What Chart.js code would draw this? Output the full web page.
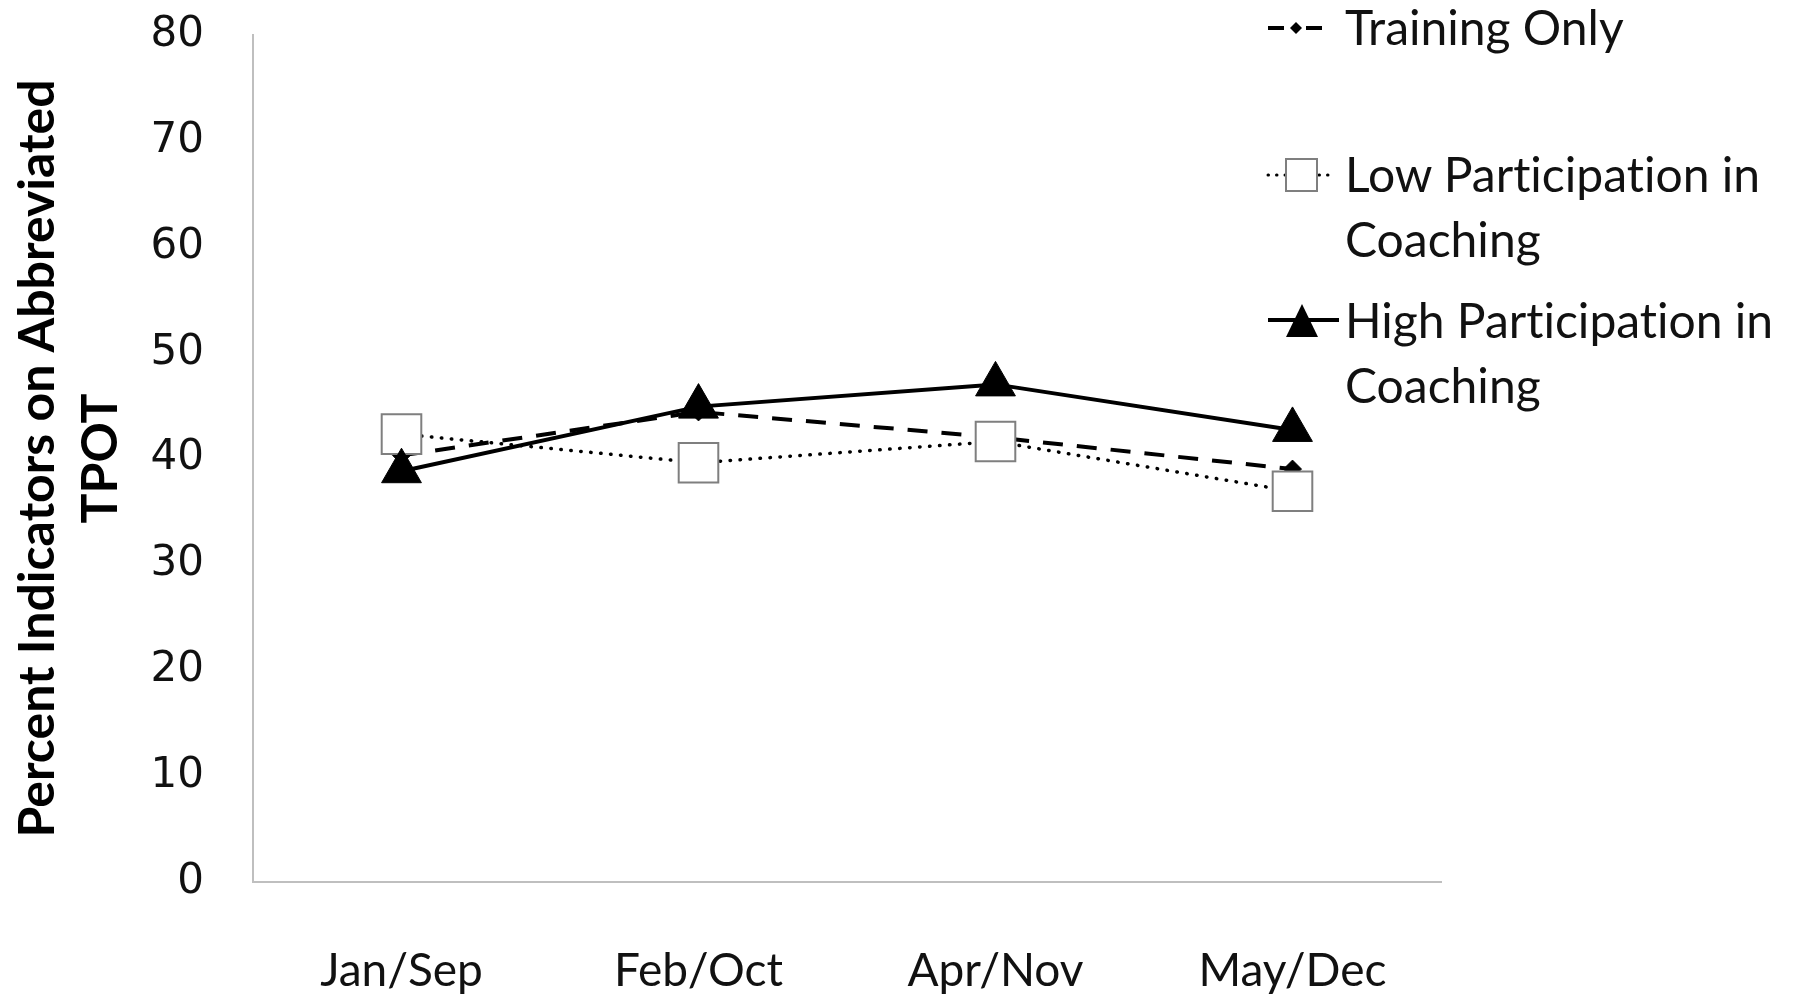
<!DOCTYPE html>
<html>
<head>
<meta charset="utf-8">
<script src="https://cdn.jsdelivr.net/npm/chart.js@4"></script>
<style>
  html, body { margin: 0; padding: 0; background: #fff; }
  #wrap { position: relative; width: 1796px; height: 994px; }
  #legend { position: absolute; left: 0; top: 0; font-family: Lato, "Open Sans", sans-serif; font-size: 48px; color: #111; font-variant-ligatures: none; }
  .item { position: absolute; }
  .item svg { position: absolute; }
  .txt { position: absolute; left: 1345px; white-space: nowrap; line-height: 65px; }
</style>
</head>
<body>
<div id="wrap">
  <canvas id="tpotChart"></canvas>
  <div id="legend"></div>
</div>
<script>
// categories and series
const periods = ["Jan/Sep", "Feb/Oct", "Apr/Nov", "May/Dec"];
const trainingOnly = [40.3, 44.4, 42.0, 39.0];
const lowCoaching = [42.3, 39.6, 41.6, 36.9];
const highCoaching = [38.8, 44.9, 47.0, 42.7];
const yTicks = [0, 10, 20, 30, 40, 50, 60, 70, 80];

const legendNames = [
  ["Training Only"],
  ["Low Participation in", "Coaching"],
  ["High Participation in", "Coaching"]
];

const axisGrey = "#bfbfbf";

const ctx = document.getElementById("tpotChart");

new Chart(ctx, {
  type: "line",
  data: {
    labels: periods,
    datasets: [
      {
        label: legendNames[0].join(" "),
        data: trainingOnly,
        borderColor: "#000",
        borderWidth: 4,
        borderDash: [20, 14],
        pointStyle: "rectRot",
        pointRadius: 9,
        pointBackgroundColor: "#000",
        pointBorderColor: "#000",
        pointBorderWidth: 1,
        tension: 0,
        order: 3
      },
      {
        label: legendNames[1].join(" "),
        data: lowCoaching,
        borderColor: "#000",
        borderWidth: 3.5,
        borderDash: [0.5, 9.5],
        borderCapStyle: "round",
        pointStyle: "rect",
        pointRadius: 28,
        pointBackgroundColor: "#fff",
        pointBorderColor: "#7f7f7f",
        pointBorderWidth: 2,
        tension: 0,
        order: 2
      },
      {
        label: legendNames[2].join(" "),
        data: highCoaching,
        borderColor: "#000",
        borderWidth: 4,
        pointStyle: "triangle",
        pointRadius: 23,
        pointBackgroundColor: "#000",
        pointBorderColor: "#000",
        pointBorderWidth: 1,
        tension: 0,
        order: 1
      }
    ]
  },
  options: {
    responsive: true,
    maintainAspectRatio: false,
    animation: false,
    layout: { autoPadding: false, padding: { top: 35, right: 355, left: 0, bottom: 0 } },
    plugins: {
      legend: { display: false },
      tooltip: { enabled: false }
    },
    scales: {
      x: {
        offset: true,
        grid: { display: false, drawTicks: false },
        border: { display: true, color: axisGrey, width: 2 },
        ticks: {
          padding: 62,
          color: "#111",
          font: { family: "Lato, sans-serif", size: 46 }
        },
        afterFit(scale) { scale.height = 112; }
      },
      y: {
        min: 0,
        max: 80,
        grid: { display: false, drawTicks: false },
        border: { display: true, color: axisGrey, width: 2 },
        afterBuildTicks(scale) { scale.ticks = yTicks.map(v => ({ value: v })); },
        ticks: {
          padding: 49,
          color: "#111",
          font: { family: "'DejaVu Sans', sans-serif", size: 42 }
        },
        title: {
          display: true,
          text: ["Percent Indicators on Abbreviated", "TPOT"],
          color: "#000",
          padding: { top: 6, bottom: 0 },
          font: { family: "Lato, sans-serif", size: 50, weight: "bold", lineHeight: 1.26 }
        },
        afterFit(scale) {
          scale.width = 253;
          // the tick padding would otherwise push the plot down
          scale.paddingTop = 0;
          scale.paddingBottom = 0;
        }
      }
    }
  }
});

// legend drawn as html so text wraps like the original
const legendBox = document.getElementById("legend");
const symbols = [
  `<svg width="60" height="30" style="left:1266px;top:13px">
     <line x1="2" y1="15" x2="18" y2="15" stroke="#000" stroke-width="4"/>
     <line x1="40" y1="15" x2="56" y2="15" stroke="#000" stroke-width="4"/>
     <polygon points="36,15 30,9 24,15 30,21" fill="#000"/>
   </svg>`,
  `<svg width="72" height="40" style="left:1266px;top:155px">
     <line x1="2" y1="20" x2="70" y2="20" stroke="#000" stroke-width="3" stroke-dasharray="0.5 8" stroke-linecap="round"/>
     <rect x="20" y="4" width="31" height="32" fill="#fff" stroke="#7f7f7f" stroke-width="2"/>
   </svg>`,
  `<svg width="76" height="40" style="left:1266px;top:302px">
     <line x1="2" y1="18" x2="73" y2="18" stroke="#000" stroke-width="4"/>
     <polygon points="36,2 52,35 20,35" fill="#000"/>
   </svg>`
];
const textTops = [-6, 141, 287];
legendNames.forEach((lines, i) => {
  const item = document.createElement("div");
  item.className = "item";
  item.innerHTML = symbols[i] +
    `<div class="txt" style="top:${textTops[i]}px">${lines.join("<br>")}</div>`;
  legendBox.appendChild(item);
});
</script>
</body>
</html>
